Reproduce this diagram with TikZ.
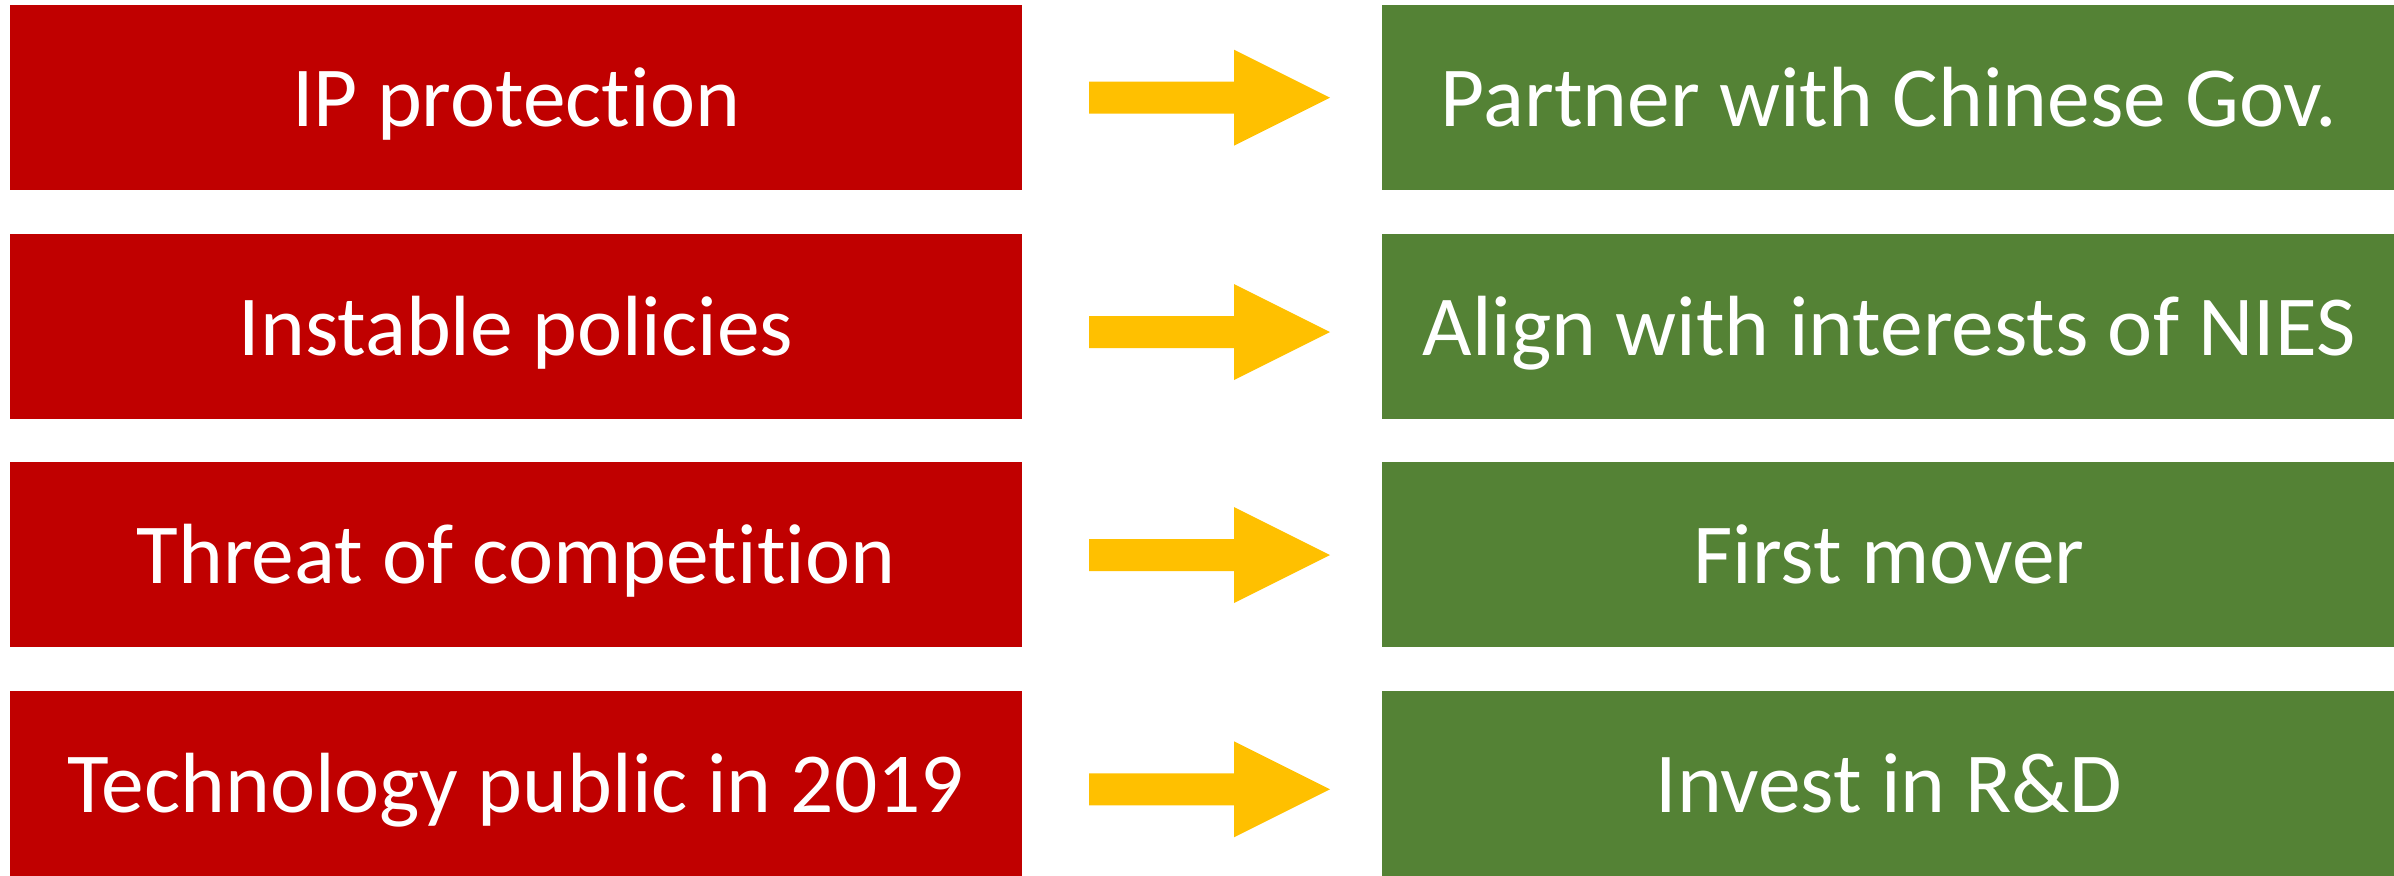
\documentclass[tikz,border=0pt]{standalone}
\usepackage{fontspec}
\setmainfont{Carlito}[Ligatures=NoCommon]

\definecolor{badred}{HTML}{C00000}
\definecolor{goodgreen}{HTML}{548235}
\definecolor{arrowyellow}{HTML}{FFC000}

\tikzset{
  issue/.style={fill=badred, text=white, minimum width=10.12cm, minimum height=1.85cm,
    inner sep=0pt, text height=0.57cm, text depth=0pt, font=\fontsize{24.3}{28}\selectfont},
  answer/.style={issue, fill=goodgreen, minimum width=10.14cm},
  blockarrow/.style={fill=arrowyellow}
}

\begin{document}
\begin{tikzpicture}[x=0.01cm,y=-0.01cm]
	\useasboundingbox (0,0) rectangle (2394,875);

	\node[issue] (ip) at (516,97.5) {IP protection};
	\node[issue] (policy) at (516,326.5) {Instable policies};
	\node[issue] (compet) at (516,554.5) {Threat of competition};
	\node[issue] (public) at (516,783.5) {Technology public in 2019};

	\node[answer] (gov) at (1889,97.5) {Partner with Chinese Gov.};
	\node[answer] (nies) at (1889,326.5) {Align with interests of NIES};
	\node[answer] (first) at (1889,554.5) {First mover};
	\node[answer] (rnd) at (1889,783.5) {Invest in R\&D};

	% yellow block arrows between the columns
	\fill[blockarrow, shift={(0,97.7)}] (1089,-16) -- (1234,-16) -- (1234,-48)
	  -- (1330,0) -- (1234,48) -- (1234,16) -- (1089,16) -- cycle;
	\fill[blockarrow, shift={(0,332)}] (1089,-16) -- (1234,-16) -- (1234,-48)
	  -- (1330,0) -- (1234,48) -- (1234,16) -- (1089,16) -- cycle;
	\fill[blockarrow, shift={(0,555)}] (1089,-16) -- (1234,-16) -- (1234,-48)
	  -- (1330,0) -- (1234,48) -- (1234,16) -- (1089,16) -- cycle;
	\fill[blockarrow, shift={(0,789.3)}] (1089,-16) -- (1234,-16) -- (1234,-48)
	  -- (1330,0) -- (1234,48) -- (1234,16) -- (1089,16) -- cycle;
\end{tikzpicture}
\end{document}
